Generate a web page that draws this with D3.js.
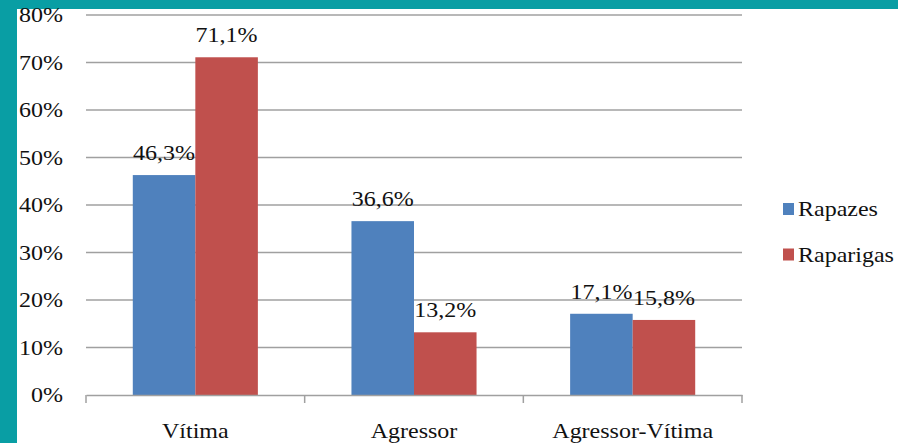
<!DOCTYPE html>
<html>
<head>
<meta charset="utf-8">
<script src="https://cdn.jsdelivr.net/npm/d3@7"></script>
<style>
  body { margin: 0; background: #fff; }
</style>
</head>
<body>
<svg id="chart"></svg>
<script>
// data
const categories = ['Vítima', 'Agressor', 'Agressor-Vítima'];
const series = ['Rapazes', 'Raparigas'];
const rapazes = [46.3, 36.6, 17.1];
const raparigas = [71.1, 13.2, 15.8];
const yTicks = [0, 10, 20, 30, 40, 50, 60, 70, 80];

const config = {
    width: 898,
    height: 443,
    margin: { top: 15, right: 156, bottom: 48, left: 86 }
};
const stretch = 1.2; // the original font looks a bit wide
const colors = d3.scaleOrdinal().domain(series).range(['#4f81bd', '#c0504d']);

// shared text styling (letter-spacing breaks the serif font here, so scale instead)
const styleText = sel => sel
    .style('font-family', '"Liberation Serif"')
    .style('font-size', '20px')
    .style('fill', '#111');

const svg = d3.select('#chart')
    .attr('width', config.width)
    .attr('height', config.height);

// teal frame on top and left
svg.append('rect').attr('x', 0).attr('y', 0).attr('width', config.width).attr('height', 9).attr('fill', '#099ea4');
svg.append('rect').attr('x', 0).attr('y', 0).attr('width', 17).attr('height', config.height).attr('fill', '#099ea4');

const innerW = config.width - config.margin.left - config.margin.right;
const innerH = config.height - config.margin.top - config.margin.bottom;

const chart = svg.append('g')
    .attr('transform', `translate(${config.margin.left},${config.margin.top})`);

const xScale = d3.scaleBand().domain(categories).range([0, innerW])
    .paddingInner(0.428).paddingOuter(0.214);
const xSub = d3.scaleBand().domain(series).range([0, xScale.bandwidth()]);
const yScale = d3.scaleLinear().domain([0, 80]).range([innerH, 0]);

const fmt = v => d3.format('.1f')(v).replace('.', ',') + '%';

// gridlines
chart.selectAll('.grid')
    .data(yTicks.filter(d => d > 0))
    .join('line')
    .attr('class', 'grid')
    .attr('x1', 0).attr('x2', innerW)
    .attr('y1', d => yScale(d)).attr('y2', d => yScale(d))
    .attr('stroke', '#a0a0a0')
    .attr('stroke-width', 1.5);

// y labels
chart.selectAll('.ylab')
    .data(yTicks)
    .join('text')
    .attr('class', 'ylab')
    .attr('transform', d => `translate(-23,${yScale(d)}) scale(${stretch},1)`)
    .attr('dy', '0.36em')
    .attr('text-anchor', 'end')
    .call(styleText)
    .text(d => d + '%');

// bars
const rows = categories.map((c, i) => ({ category: c, values: [rapazes[i], raparigas[i]] }));

const groups = chart.selectAll('.group')
    .data(rows)
    .join('g')
    .attr('class', 'group')
    .attr('transform', d => `translate(${xScale(d.category)},0)`);

groups.selectAll('rect')
    .data(d => d.values.map((v, j) => ({ key: series[j], value: v })))
    .join('rect')
    .attr('x', d => xSub(d.key))
    .attr('y', d => yScale(d.value))
    .attr('width', xSub.bandwidth())
    .attr('height', d => innerH - yScale(d.value))
    .attr('fill', d => colors(d.key));

groups.selectAll('.val')
    .data(d => d.values.map((v, j) => ({ key: series[j], value: v })))
    .join('text')
    .attr('class', 'val')
    .attr('transform', d => `translate(${xSub(d.key) + xSub.bandwidth() / 2},${yScale(d.value) - 15}) scale(${stretch},1)`)
    .attr('text-anchor', 'middle')
    .call(styleText)
    .text(d => fmt(d.value));

// x axis
const xAxis = d3.axisBottom(xScale).tickSize(0).tickPadding(29);
const xAxisG = chart.append('g')
    .attr('transform', `translate(0,${innerH})`)
    .call(xAxis);
xAxisG.select('.domain').attr('stroke', '#a0a0a0').attr('stroke-width', 1.5);
xAxisG.selectAll('text')
    .attr('transform', `scale(${stretch},1)`)
    .call(styleText);

// category boundary ticks
const bounds = [0].concat(categories.map(c => xScale(c) + xScale.bandwidth() + xScale.step() * xScale.paddingInner() / 2));
xAxisG.selectAll('.bound')
    .data(bounds)
    .join('line')
    .attr('class', 'bound')
    .attr('x1', d => d).attr('x2', d => d)
    .attr('y1', 0).attr('y2', 8)
    .attr('stroke', '#a0a0a0')
    .attr('stroke-width', 1.5);

// legend
const legend = svg.append('g')
    .attr('transform', `translate(783,203)`);
const legendItems = legend.selectAll('.legend-item')
    .data(series)
    .join('g')
    .attr('class', 'legend-item')
    .attr('transform', (d, i) => `translate(0,${i * 45.5})`);
legendItems.append('rect')
    .attr('width', 11)
    .attr('height', 12)
    .attr('fill', d => colors(d));
legendItems.append('text')
    .attr('transform', `translate(15,13) scale(${stretch},1)`)
    .call(styleText)
    .text(d => d);
</script>
</body>
</html>
